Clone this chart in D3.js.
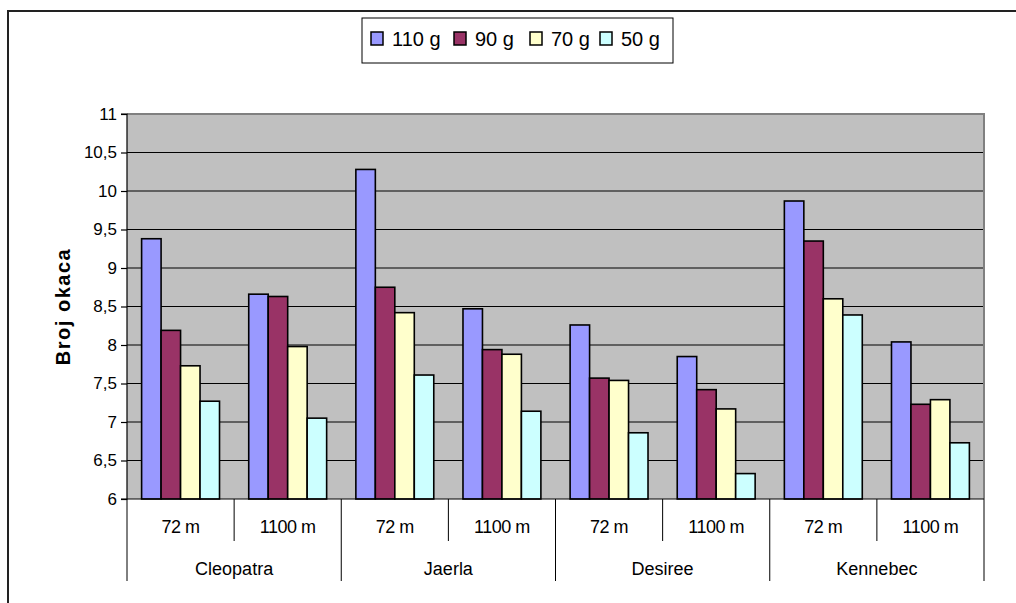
<!DOCTYPE html>
<html><head><meta charset="utf-8">
<script src="https://cdn.jsdelivr.net/npm/d3@7"></script>
<style>body{margin:0;background:#fff;}svg{display:block;font-family:Arial,"Liberation Sans",sans-serif;}</style>
</head><body><svg id="c" width="1016" height="603"></svg>
<script>
const groups = ["Cleopatra","Jaerla","Desiree","Kennebec"];
const subs = ["72 m","1100 m"];
const seriesNames = ["110 g","90 g","70 g","50 g"];
const colors = ["#9999FF","#993366","#FFFFCC","#CCFFFF"];
// values per category in order: Cleopatra 72 m, Cleopatra 1100 m, Jaerla 72 m, ...
const s110 = [9.38, 8.66, 10.28, 8.47, 8.26, 7.85, 9.87, 8.04];
const s90  = [8.19, 8.63, 8.75, 7.94, 7.57, 7.42, 9.35, 7.23];
const s70  = [7.73, 7.98, 8.42, 7.88, 7.54, 7.17, 8.60, 7.29];
const s50  = [7.27, 7.05, 7.61, 7.14, 6.86, 6.33, 8.39, 6.73];
const yTicks = [6,6.5,7,7.5,8,8.5,9,9.5,10,10.5,11];
const series = [s110,s90,s70,s50];

const FONT = "Arial,'Liberation Sans',sans-serif";
const svg = d3.select("#c");
const L=127, R=984, T=114, B=499;
svg.append("rect").attr("x",8).attr("y",11).attr("width",1030).attr("height",620)
  .attr("fill","none").attr("stroke","#222").attr("stroke-width",2);

const cats = [];
groups.forEach(g=>subs.forEach(s=>cats.push(g+"|"+s)));
const x = d3.scaleBand().domain(cats).range([L,R]);
const bw = x.bandwidth();
const barW = bw/5.5;
const y = d3.scaleLinear().domain([6,11]).range([B,T]);

svg.append("rect").attr("x",L).attr("y",T).attr("width",R-L).attr("height",B-T).attr("fill","#C0C0C0");
svg.append("g").selectAll("line").data(yTicks.slice(1)).join("line")
  .attr("x1",L).attr("x2",R).attr("y1",d=>y(d)).attr("y2",d=>y(d))
  .attr("stroke","#000").attr("stroke-width",1.2);
svg.append("path").attr("d",`M${L},${T}H${R}V${B}`).attr("fill","none").attr("stroke","#808080").attr("stroke-width",2);

series.forEach((vals,si)=>{
  svg.append("g").selectAll("rect").data(vals).join("rect")
    .attr("x",(d,i)=>x(cats[i]) + barW*0.75 + si*barW)
    .attr("y",d=>y(d)).attr("width",barW).attr("height",d=>B-y(d))
    .attr("fill",colors[si]).attr("stroke","#000").attr("stroke-width",1.6);
});

const yAxis = d3.axisLeft(y).tickValues(yTicks).tickSize(6).tickPadding(4)
  .tickFormat(d=>String(d).replace(".",","));
const ga = svg.append("g").attr("transform",`translate(${L},0)`).call(yAxis);
ga.attr("font-family",FONT).attr("font-size",17);
ga.select(".domain").attr("stroke","#000").attr("stroke-width",1.2).attr("d",`M-6,${T}H0V${B}H-6`);
ga.selectAll(".tick line").attr("stroke","#000").attr("stroke-width",1.2);
ga.selectAll(".tick text").attr("fill","#000");

svg.append("text").attr("transform",`translate(70,${(T+B)/2}) rotate(-90)`)
  .attr("text-anchor","middle").attr("font-family",FONT).attr("font-size",20).attr("font-weight","bold")
  .attr("letter-spacing",1.5).text("Broj okaca");

svg.append("line").attr("x1",L).attr("x2",R).attr("y1",B).attr("y2",B).attr("stroke","#000").attr("stroke-width",1.2);
const xa = svg.append("g").attr("font-family",FONT).attr("font-size",18);
cats.forEach((c,i)=>{
  const x0 = x(c);
  const isGroupStart = i%2===0;
  xa.append("line").attr("x1",x0).attr("x2",x0).attr("y1",B).attr("y2",isGroupStart?581:541)
    .attr("stroke","#000").attr("stroke-width",1);
  xa.append("text").attr("x",x0+bw/2).attr("y",533).attr("text-anchor","middle")
    .attr("letter-spacing",-0.5).text(c.split("|")[1]);
});
xa.append("line").attr("x1",R).attr("x2",R).attr("y1",B).attr("y2",581).attr("stroke","#000").attr("stroke-width",1);
groups.forEach(g=>{
  const x0 = x(g+"|"+subs[0]);
  xa.append("text").attr("x",x0+bw).attr("y",575).attr("text-anchor","middle").text(g);
});

const lg = svg.append("g").attr("font-family",FONT);
lg.append("rect").attr("x",362).attr("y",18).attr("width",311).attr("height",45)
  .attr("fill","#fff").attr("stroke","#000").attr("stroke-width",1);
const lx = [371, 454, 530, 600];
seriesNames.forEach((n,i)=>{
  lg.append("rect").attr("x",lx[i]).attr("y",32).attr("width",12).attr("height",13)
    .attr("fill",colors[i]).attr("stroke","#000").attr("stroke-width",1.5);
  lg.append("text").attr("x",lx[i]+21).attr("y",46).attr("font-size",20).text(n);
});
</script></body></html>
